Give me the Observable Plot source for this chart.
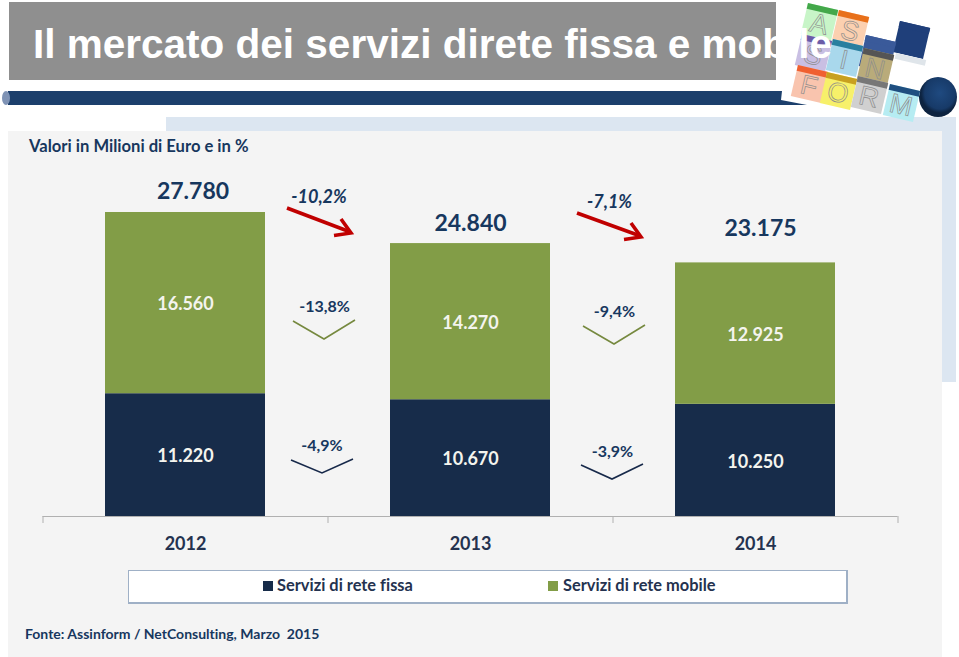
<!DOCTYPE html>
<html><head><meta charset="utf-8">
<script src="https://cdn.jsdelivr.net/npm/d3@7"></script>
<script src="https://cdn.jsdelivr.net/npm/@observablehq/plot@0.6"></script>
<style>
html,body{margin:0;padding:0;background:#fff}
#page{position:relative;width:959px;height:657px;overflow:hidden;font-family:Lato,"Open Sans",sans-serif;color:#17375e;font-variant-ligatures:none}
#page div,#page span{position:absolute}
#page svg{position:absolute;left:0;top:0}
#chart{left:0;top:0;width:959px;height:657px}
#chart svg{max-width:none;font-variant-ligatures:none}
.tile{width:31px;height:32px;transform:rotate(13deg);box-sizing:border-box}
.tile i{position:absolute;left:0;top:0;right:0;height:6px;display:block}
.tile b{position:absolute;left:0;right:0;top:5px;text-align:center;font:400 27px/27px "Liberation Sans",sans-serif;color:transparent;-webkit-text-stroke:.7px #8d8d8d}
</style></head><body>
<div id="page">
  <div style="left:166px;top:117px;width:790px;height:265px;background:#dce6f1"></div>
  <div style="left:8px;top:131px;width:934px;height:526px;background:#f4f4f4"></div>
  <div style="left:9px;top:2px;width:767px;height:78px;background:#8f8f8f"></div>
  <svg id="deco" width="959" height="657"></svg>
  <div id="logo"></div>
  <div style="left:33px;top:21px;font:700 40.5px/46px 'Liberation Sans',sans-serif;color:#fff;white-space:nowrap">Il mercato dei servizi direte fissa e mobile</div>
  <div style="left:29px;top:137px;font-weight:700;font-size:16.6px;line-height:18px;white-space:nowrap">Valori in Milioni di Euro e in %</div>
  <div style="left:128px;top:570px;width:717px;height:31px;background:#fff;border:1px solid #9fb0c6;border-width:1px 2px 2px 1px"></div>
  <div style="left:263px;top:581px;width:10px;height:10px;background:#172c4a"></div>
  <div style="left:277px;top:575px;font-weight:700;font-size:16.4px;line-height:20px;white-space:nowrap;color:#24324f">Servizi di rete fissa</div>
  <div style="left:548px;top:581px;width:10px;height:10px;background:#829d47"></div>
  <div style="left:563px;top:575px;font-weight:700;font-size:16.4px;line-height:20px;white-space:nowrap;color:#24324f">Servizi di rete mobile</div>
  <div style="left:25px;top:625px;font-weight:700;font-size:14px;line-height:18px;white-space:nowrap;color:#17375e">Fonte: Assinform / NetConsulting, Marzo&nbsp; 2015</div>
  <div id="chart"></div>
</div>
<script>
const years = ["2012", "2013", "2014"];
const fissa = [11220, 10670, 10250];
const mobile = [16560, 14270, 12925];
const totals = [27780, 24840, 23175];
const deltaTotal = ["-10,2%", "-7,1%"];
const deltaMobile = ["-13,8%", "-9,4%"];
const deltaFissa = ["-4,9%", "-3,9%"];
const seriesNames = ["Servizi di rete fissa", "Servizi di rete mobile"];
const seriesColors = ["#172c4a", "#829d47"];

const fmt = v => d3.format(",")(v).replace(/,/g, ".");
const rows = [
  ...years.map((year, i) => ({year, series: seriesNames[0], value: fissa[i]})),
  ...years.map((year, i) => ({year, series: seriesNames[1], value: mobile[i]}))
];
const totalRows = years.map((year, i) => ({year, value: totals[i]}));

const LABEL = "Lato, 'Open Sans', sans-serif";
const NAVY = "#17375e";
const totalText = (i, dx, dy) => Plot.text([totalRows[i]], {
  x: "year", y: "value", text: d => fmt(d.value), dx, dy,
  fontSize: 23, fontWeight: 700, fill: NAVY, fontFamily: LABEL
});
const between = (label, i, yValue, dx, italic, size) => Plot.text([{year: years[i], label}], {
  x: "year", y: () => yValue, text: "label", dx, fontSize: size, fontWeight: 700,
  fontStyle: italic ? "italic" : "normal", fill: NAVY, fontFamily: LABEL
});
const yFromPx = px => (516 - px) / 304 * 27780;

const chart = Plot.plot({
  width: 959, height: 657,
  marginLeft: 42.5, marginRight: 61.5, marginTop: 212, marginBottom: 141,
  style: {background: "transparent"},
  x: {domain: years, paddingInner: 0.4386, paddingOuter: 0.2193, round: false, label: null},
  y: {domain: [0, 27780], axis: null, label: null},
  color: {domain: seriesNames, range: seriesColors},
  marks: [
    Plot.barY(rows, {x: "year", y: "value", fill: "series"}),
    Plot.ruleY([0], {stroke: "#b0b0b0", strokeWidth: 1}),
    Plot.axisX({tickSize: 0, tickPadding: 21, fontSize: 18, fontWeight: 700, fontFamily: LABEL, color: "#24324f", label: null, tickFormat: d => d}),
    Plot.text(rows, Plot.stackY({x: "year", y: "value", z: "series", text: d => fmt(d.value), dy: 1.5,
      fill: "#f4f4ee", fontSize: 18, fontWeight: 700, fontFamily: LABEL})),
    totalText(0, 7.5, -21), totalText(1, 0, -21), totalText(2, 5, -34),
    between(deltaTotal[0], 0, yFromPx(197), 133.5, true, 18),
    between(deltaTotal[1], 1, yFromPx(202), 139, true, 18),
    between(deltaMobile[0], 0, yFromPx(306), 139, false, 16),
    between(deltaMobile[1], 1, yFromPx(311), 144, false, 16),
    between(deltaFissa[0], 0, yFromPx(445), 136.5, false, 16),
    between(deltaFissa[1], 1, yFromPx(451), 142, false, 16)
  ]
});
document.getElementById("chart").append(chart);

const deco = d3.select("#deco");
const defs = deco.append("defs");
const g = defs.append("radialGradient").attr("id", "ball").attr("cx", "55%").attr("cy", "40%");
g.append("stop").attr("offset", "0%").attr("stop-color", "#1f4a80");
g.append("stop").attr("offset", "80%").attr("stop-color", "#173a68");
g.append("stop").attr("offset", "100%").attr("stop-color", "#0d2340");
deco.append("polygon").attr("points", "8,91 782,91 781,100 807,105 8,105").attr("fill", "#1c3f6c");
deco.append("ellipse").attr("cx", 6).attr("cy", 98).attr("rx", 4).attr("ry", 7).attr("fill", "#7f93b5");
deco.append("ellipse").attr("cx", 938).attr("cy", 97).attr("rx", 19).attr("ry", 20).attr("fill", "url(#ball)");
[43, 328, 613, 898].forEach(x => deco.append("line").attr("x1", x).attr("x2", x).attr("y1", 516).attr("y2", 523).attr("stroke", "#b0b0b0"));
const chev = (pts, c, w) => deco.append("polyline").attr("points", pts).attr("fill", "none").attr("stroke", c).attr("stroke-width", w);
chev("293,321 324,339 355,320", "#76893f", 1.6);
chev("583,326 614,344 645,325", "#76893f", 1.6);
chev("291,460 322,473 353,459", "#17294a", 1.6);
chev("581,465 612,479 643,464", "#17294a", 1.6);
const arrow = (x1, y1, x2, y2) => {
  deco.append("line").attr("x1", x1).attr("y1", y1).attr("x2", x2 - 3).attr("y2", y2 - 1.5).attr("stroke", "#c00000").attr("stroke-width", 3.6);
  chev(`${x2 - 18},${y2 + 2.5} ${x2 - 1},${y2} ${x2 - 11},${y2 - 14}`, "#c00000", 3.6);
};
arrow(287, 208, 352, 233);
arrow(577, 213, 642, 237);

const tiles = [
  [804, 6, "#c8f5c8", "#43a84a", "A"], [835, 13, "#fcd0b0", "#e8701a", "S"],
  [896, 24, "#1f3f7a", "#1f3f7a", ""], [798, 37, "#c9bfe3", "#6a5ca8", "S"],
  [829, 42, "#a9d8ec", "#2a7f9f", "I"], [862, 38, "#3a5a9a", "#3a5a9a", ""],
  [860, 51, "#b9ab7a", "#555", "N"], [892, 56, "#fff", "#dfe5ea", ""],
  [794, 68, "#f9c4ae", "#f06030", "F"], [823, 75, "#f7f06a", "#c8a020", "O"],
  [854, 79, "#d0d0d0", "#777", "R"], [886, 87, "#b6ecf2", "#1f4f80", "M"]
];
const logo = document.getElementById("logo");
tiles.forEach(([x, y, bg, head, letter]) => {
  const t = document.createElement("div");
  t.className = "tile";
  t.style.cssText = `left:${x}px;top:${y}px;background:${bg}`;
  t.innerHTML = `<i style="background:${head}"></i><b>${letter}</b>`;
  logo.append(t);
});
</script>
</body></html>
